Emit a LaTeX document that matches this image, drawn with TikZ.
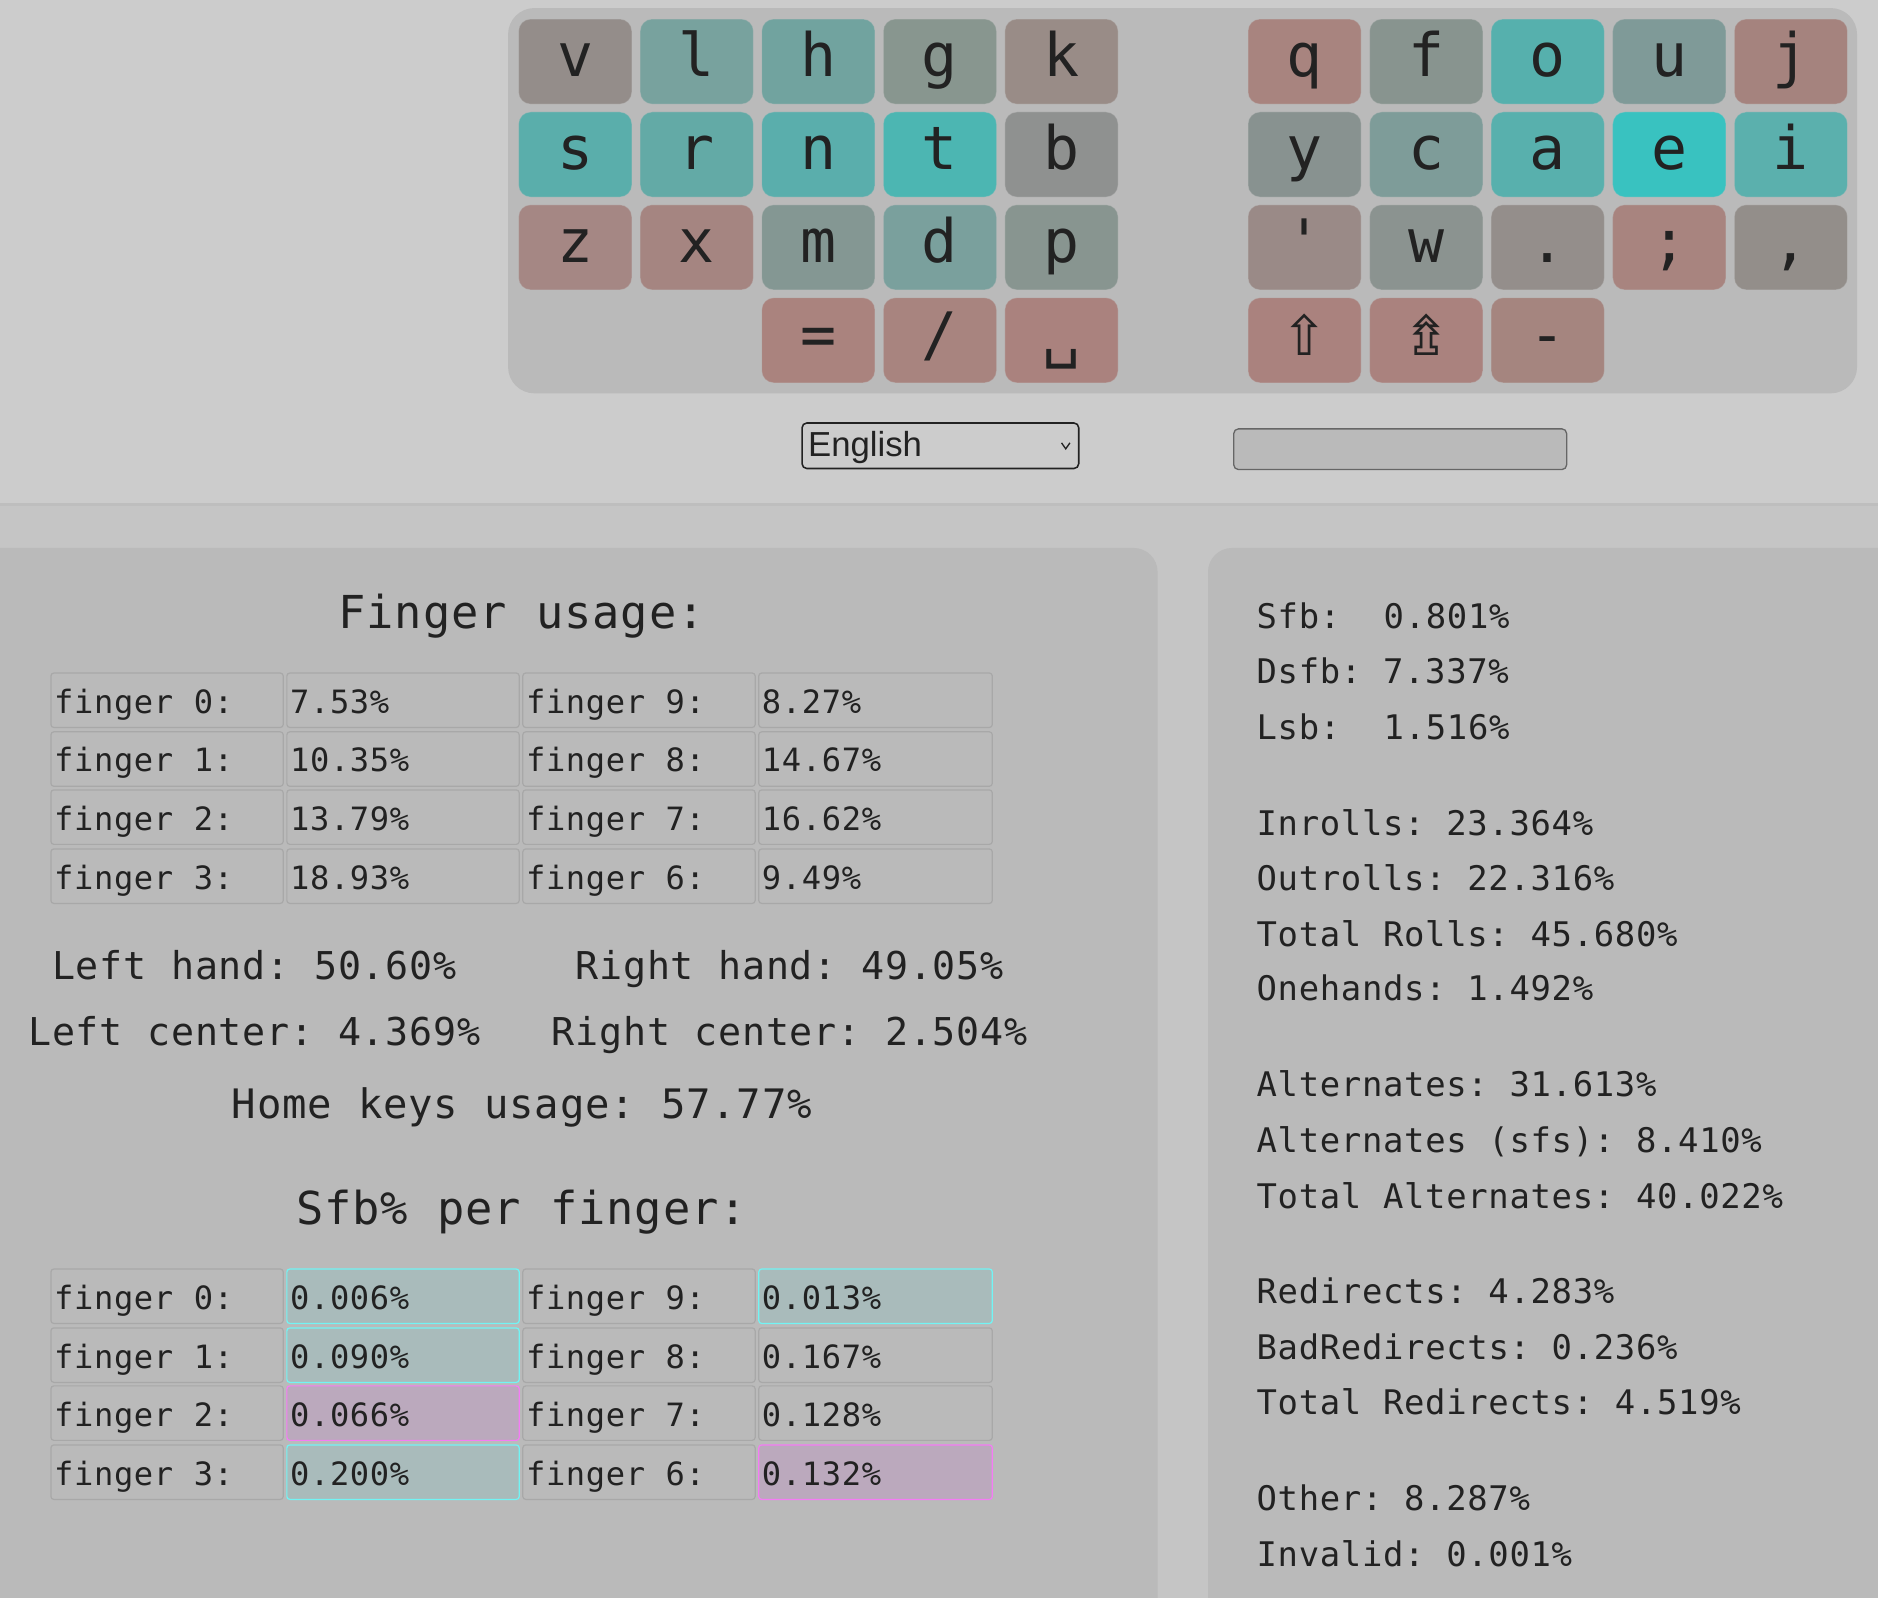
\documentclass[tikz,border=0pt]{standalone}
\usepackage{fontspec}
\newfontfamily\monof[LetterSpace=2,WordSpace=1.03]{DejaVu Sans Mono}
\newfontfamily\keyf[Ligatures=TeXOff]{DejaVu Sans Mono}
\newfontfamily\symf{DejaVu Sans}
\newfontfamily\uif{Liberation Sans}
\definecolor{topbg}{HTML}{CCCCCC}
\definecolor{divider}{HTML}{BEBEBE}
\definecolor{lowbg}{HTML}{C5C5C5}
\definecolor{panelc}{HTML}{BABABA}
\definecolor{cellborder}{HTML}{A8A8A8}
\definecolor{cyanb}{HTML}{72F4F4}
\definecolor{cyanf}{HTML}{A9BBBB}
\definecolor{magb}{HTML}{F47CF4}
\definecolor{magf}{HTML}{BBA9BD}
\definecolor{txt}{HTML}{222222}
\definecolor{inputb}{HTML}{666666}
% key colours
\definecolor{cv}{HTML}{948D8A}\definecolor{cl}{HTML}{78A29E}\definecolor{ch}{HTML}{71A39F}
\definecolor{cg}{HTML}{88968F}\definecolor{ck}{HTML}{998C87}
\definecolor{cq}{HTML}{A8847F}\definecolor{cf}{HTML}{88948F}\definecolor{co}{HTML}{56B0AD}
\definecolor{cu}{HTML}{7F9A98}\definecolor{cj}{HTML}{A5837E}
\definecolor{cs}{HTML}{5AAEAB}\definecolor{cr}{HTML}{63AAA6}\definecolor{cn}{HTML}{5AAEAC}
\definecolor{ct}{HTML}{4CB6B2}\definecolor{cb}{HTML}{8F9190}
\definecolor{cy}{HTML}{889290}\definecolor{cc}{HTML}{7E9C99}\definecolor{ca}{HTML}{58B0AD}
\definecolor{ce}{HTML}{39C2C0}\definecolor{ci}{HTML}{5BB0AD}
\definecolor{cz}{HTML}{A58784}\definecolor{cx}{HTML}{A58581}\definecolor{cm}{HTML}{849793}
\definecolor{cd}{HTML}{7AA09D}\definecolor{cp}{HTML}{889590}
\definecolor{capo}{HTML}{9A8A87}\definecolor{cw}{HTML}{8B9390}\definecolor{cdot}{HTML}{948E8B}
\definecolor{csemi}{HTML}{A8847F}\definecolor{ccomma}{HTML}{938E8A}
\definecolor{ceq}{HTML}{AA837E}\definecolor{cslash}{HTML}{A8847F}\definecolor{cspace}{HTML}{AA827E}
\definecolor{cshift}{HTML}{AA827E}\definecolor{clock}{HTML}{AA827E}\definecolor{cminus}{HTML}{A5857F}

\tikzset{
  keybox/.style={rectangle, rounded corners=10pt, minimum width=94.5pt, minimum height=71pt,
    inner sep=0pt, text height=24.6pt, text depth=0pt, text=txt,
    draw=black!25, draw opacity=0.35, line width=0.8pt,
    font={\keyf\fontsize{50}{50}\selectfont}},
  cellbox/.style={rectangle, anchor=north west, minimum height=45.5pt, inner sep=0pt,
    rounded corners=2.5pt, draw=cellborder, fill=panelc, line width=1pt},
  plaincell/.style={},
  cyancell/.style={draw=cyanb, fill=cyanf},
  magcell/.style={draw=magb, fill=magf},
  celltext/.style={anchor=base west, inner sep=0pt, text=txt, font={\monof\frenchspacing\fontsize{26.8}{30}\selectfont}},
  headtext/.style={anchor=base, inner sep=0pt, text=txt, font={\monof\frenchspacing\fontsize{37.9}{42}\selectfont}},
  handtext/.style={anchor=base, inner sep=0pt, text=txt, font={\monof\frenchspacing\fontsize{32}{36}\selectfont}},
  hometext/.style={anchor=base, inner sep=0pt, text=txt, font={\monof\frenchspacing\fontsize{33.9}{38}\selectfont}},
  stattext/.style={anchor=base west, inner sep=0pt, text=txt, font={\monof\frenchspacing\fontsize{28.3}{32}\selectfont}},
}
\newcommand\kbkey[5]{\node[keybox, fill=#4] (#1) at ({#2+47.25},{#3+35.5}) {#5};}
\newcommand\tcell[6]{\node[cellbox, #5, minimum width=#4] (#1) at (#2,#3) {};
  \node[celltext] (#1t) at ([shift={(3,34)}]#1.north west) {#6};}

\begin{document}
\frenchspacing
\begin{tikzpicture}[x=1pt, y=-1pt]
\useasboundingbox (0,0) rectangle (1568,1334.2);
% backgrounds
\fill[topbg] (0,0) rectangle (1568,1334.2);
\fill[lowbg] (0,421) rectangle (1568,1334.2);
\fill[divider] (0,419.8) rectangle (1568,422.4);
% keyboard panel
\fill[panelc, rounded corners=22pt] (424.2,6.7) rectangle (1550.5,328.4);

% left half keys
\kbkey{kv}{433}{15.9}{cv}{v}
\kbkey{kl}{534.5}{15.9}{cl}{l}
\kbkey{kh}{636}{15.9}{ch}{h}
\kbkey{kg}{737.5}{15.9}{cg}{g}
\kbkey{kk}{839}{15.9}{ck}{k}
\kbkey{ks}{433}{93.5}{cs}{s}
\kbkey{kr}{534.5}{93.5}{cr}{r}
\kbkey{kn}{636}{93.5}{cn}{n}
\kbkey{kt}{737.5}{93.5}{ct}{t}
\kbkey{kb}{839}{93.5}{cb}{b}
\kbkey{kz}{433}{171}{cz}{z}
\kbkey{kx}{534.5}{171}{cx}{x}
\kbkey{km}{636}{171}{cm}{m}
\kbkey{kd}{737.5}{171}{cd}{d}
\kbkey{kp}{839}{171}{cp}{p}
\kbkey{keq}{636}{248.6}{ceq}{=}
\kbkey{kslash}{737.5}{248.6}{cslash}{/}
\kbkey{kspace}{839}{248.6}{cspace}{{\symf ␣}}
% right half keys
\kbkey{kq}{1042}{15.9}{cq}{q}
\kbkey{kf}{1143.5}{15.9}{cf}{f}
\kbkey{ko}{1245}{15.9}{co}{o}
\kbkey{ku}{1346.5}{15.9}{cu}{u}
\kbkey{kj}{1448}{15.9}{cj}{j}
\kbkey{ky}{1042}{93.5}{cy}{y}
\kbkey{kc}{1143.5}{93.5}{cc}{c}
\kbkey{ka}{1245}{93.5}{ca}{a}
\kbkey{ke}{1346.5}{93.5}{ce}{e}
\kbkey{ki}{1448}{93.5}{ci}{i}
\kbkey{kapo}{1042}{171}{capo}{'}
\kbkey{kw}{1143.5}{171}{cw}{w}
\kbkey{kdot}{1245}{171}{cdot}{.}
\kbkey{ksemi}{1346.5}{171}{csemi}{;}
\kbkey{kcomma}{1448}{171}{ccomma}{,}
\kbkey{kshift}{1042}{248.6}{cshift}{{\symf\fontsize{46}{46}\selectfont ⇧}}
\kbkey{klock}{1143.5}{248.6}{clock}{{\symf\fontsize{46}{46}\selectfont ⇯}}
\kbkey{kminus}{1245}{248.6}{cminus}{-}

% language select and input
\node[rectangle, anchor=north west, minimum width=231pt, minimum height=38pt, inner sep=0pt,
      draw=txt, line width=1.3pt, rounded corners=4pt, fill=topbg] (lang) at (669,352.5) {};
\node[anchor=base west, inner sep=0pt, text=txt, font={\uif\fontsize{29}{32}\selectfont}] (langtext) at (674.5,381.3) {English};
\draw[txt, line width=1.1pt] ([shift={(-15,-2.4)}]lang.east) -- ([shift={(-11.5,2.6)}]lang.east) -- ([shift={(-8,-2.4)}]lang.east);
\node[rectangle, anchor=north west, minimum width=278pt, minimum height=34pt, inner sep=0pt,
      draw=inputb, line width=1.1pt, rounded corners=4pt, fill=panelc] (search) at (1029.5,357.5) {};

% lower panels
\fill[panelc, rounded corners=20pt] (-40,457.5) rectangle (966.5,1400);
\fill[panelc, rounded corners=20pt] (1008.6,457.5) rectangle (1640,1400);

% finger usage
\node[headtext] (fuhead) at (435.5,524.5) {Finger usage:};
\tcell{ua1}{42}{561.4}{194pt}{plaincell}{finger 0:}
\tcell{ub1}{239}{561.4}{194pt}{plaincell}{7.53\%}
\tcell{uc1}{436}{561.4}{194pt}{plaincell}{finger 9:}
\tcell{ud1}{633}{561.4}{195pt}{plaincell}{8.27\%}
\tcell{ua2}{42}{610.5}{194pt}{plaincell}{finger 1:}
\tcell{ub2}{239}{610.5}{194pt}{plaincell}{10.35\%}
\tcell{uc2}{436}{610.5}{194pt}{plaincell}{finger 8:}
\tcell{ud2}{633}{610.5}{195pt}{plaincell}{14.67\%}
\tcell{ua3}{42}{659}{194pt}{plaincell}{finger 2:}
\tcell{ub3}{239}{659}{194pt}{plaincell}{13.79\%}
\tcell{uc3}{436}{659}{194pt}{plaincell}{finger 7:}
\tcell{ud3}{633}{659}{195pt}{plaincell}{16.62\%}
\tcell{ua4}{42}{708.3}{194pt}{plaincell}{finger 3:}
\tcell{ub4}{239}{708.3}{194pt}{plaincell}{18.93\%}
\tcell{uc4}{436}{708.3}{194pt}{plaincell}{finger 6:}
\tcell{ud4}{633}{708.3}{195pt}{plaincell}{9.49\%}

\node[handtext] (lefthand) at (212.3,818.2) {Left hand: 50.60\%};
\node[handtext] (righthand) at (659.3,818.2) {Right hand: 49.05\%};
\node[handtext] (leftcenter) at (212.3,872.5) {Left center: 4.369\%};
\node[handtext] (rightcenter) at (659.3,872.5) {Right center: 2.504\%};
\node[hometext] (homekeys) at (435.8,933.7) {Home keys usage: 57.77\%};

% sfb per finger
\node[headtext] (sfbhead) at (435.5,1022) {Sfb\% per finger:};
\tcell{sa1}{42}{1059}{194pt}{plaincell}{finger 0:}
\tcell{sb1}{239}{1059}{194pt}{cyancell}{0.006\%}
\tcell{sc1}{436}{1059}{194pt}{plaincell}{finger 9:}
\tcell{sd1}{633}{1059}{195pt}{cyancell}{0.013\%}
\tcell{sa2}{42}{1108.2}{194pt}{plaincell}{finger 1:}
\tcell{sb2}{239}{1108.2}{194pt}{cyancell}{0.090\%}
\tcell{sc2}{436}{1108.2}{194pt}{plaincell}{finger 8:}
\tcell{sd2}{633}{1108.2}{195pt}{plaincell}{0.167\%}
\tcell{sa3}{42}{1156.6}{194pt}{plaincell}{finger 2:}
\tcell{sb3}{239}{1156.6}{194pt}{magcell}{0.066\%}
\tcell{sc3}{436}{1156.6}{194pt}{plaincell}{finger 7:}
\tcell{sd3}{633}{1156.6}{195pt}{plaincell}{0.128\%}
\tcell{sa4}{42}{1205.9}{194pt}{plaincell}{finger 3:}
\tcell{sb4}{239}{1205.9}{194pt}{cyancell}{0.200\%}
\tcell{sc4}{436}{1205.9}{194pt}{plaincell}{finger 6:}
\tcell{sd4}{633}{1205.9}{195pt}{magcell}{0.132\%}

% right statistics
\node[stattext] (st1) at (1049,524.6) {Sfb:\ \ 0.801\%};
\node[stattext] (st2) at (1049,570.5) {Dsfb: 7.337\%};
\node[stattext] (st3) at (1049,617.3) {Lsb:\ \ 1.516\%};
\node[stattext] (st4) at (1049,697.2) {Inrolls: 23.364\%};
\node[stattext] (st5) at (1049,743.6) {Outrolls: 22.316\%};
\node[stattext] (st6) at (1049,789.9) {Total Rolls: 45.680\%};
\node[stattext] (st7) at (1049,835.5) {Onehands: 1.492\%};
\node[stattext] (st8) at (1049,915.9) {Alternates: 31.613\%};
\node[stattext] (st9) at (1049,962.3) {Alternates (sfs): 8.410\%};
\node[stattext] (st10) at (1049,1008.6) {Total Alternates: 40.022\%};
\node[stattext] (st11) at (1049,1088.5) {Redirects: 4.283\%};
\node[stattext] (st12) at (1049,1134.9) {BadRedirects: 0.236\%};
\node[stattext] (st13) at (1049,1181.2) {Total Redirects: 4.519\%};
\node[stattext] (st14) at (1049,1261.1) {Other: 8.287\%};
\node[stattext] (st15) at (1049,1307.5) {Invalid: 0.001\%};
\end{tikzpicture}
\end{document}
